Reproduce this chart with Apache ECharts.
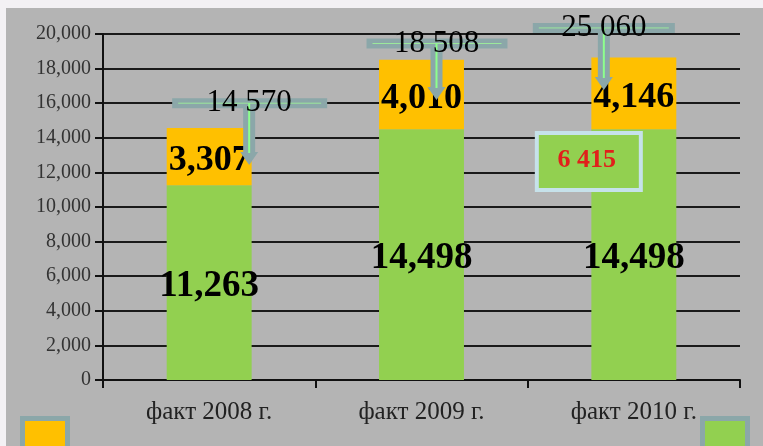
<!DOCTYPE html>
<html>
<head>
<meta charset="utf-8">
<script src="https://cdn.jsdelivr.net/npm/echarts@6/dist/echarts.min.js"></script>
<style>
  html, body { margin: 0; padding: 0; background: #f3f1f4; }
  #chart { width: 763px; height: 446px; }
</style>
</head>
<body>
<div id="chart"></div>
<script>
const categories = ['факт 2008 г.', 'факт 2009 г.', 'факт 2010 г.'];
const baseValues = [11263, 14498, 14498];
const addValues = [3307, 4010, 4146];
const totalLabels = ['14 570', '18 508', '25 060'];
const extraLabel = '6 415';

const chart = echarts.init(document.getElementById('chart'));
const serif = '"Liberation Serif", "DejaVu Serif", serif';

const option = {
  animation: false,
  backgroundColor: 'transparent',
  grid: { left: 103, right: 23, top: 34, bottom: 66 },
  xAxis: {
    type: 'category',
    data: categories,
    axisLine: { lineStyle: { color: '#111', width: 2 } },
    axisTick: { show: true, length: 8, lineStyle: { color: '#111', width: 2 } },
    axisLabel: { color: '#222', fontFamily: serif, fontSize: 25, margin: 20 }
  },
  yAxis: {
    type: 'value',
    min: 0,
    max: 20000,
    interval: 2000,
    axisLine: { show: true, lineStyle: { color: '#111', width: 2 } },
    axisTick: { show: true, length: 8, lineStyle: { color: '#111', width: 2 } },
    axisLabel: {
      color: '#333', fontFamily: serif, fontSize: 20, margin: 12,
      formatter: v => v.toLocaleString('en-US')
    },
    splitLine: { lineStyle: { color: '#1a1a1a', width: 2 } }
  },
  series: [
    {
      name: 'base',
      type: 'bar',
      stack: 'total',
      barWidth: '40%',
      itemStyle: { color: '#92d050' },
      label: {
        show: true, position: 'inside', offset: [0, 4], color: '#000',
        fontFamily: serif, fontWeight: 'bold', fontSize: 37,
        formatter: p => p.value.toLocaleString('en-US')
      },
      data: baseValues
    },
    {
      name: 'add',
      type: 'bar',
      stack: 'total',
      itemStyle: { color: '#ffc000' },
      label: {
        show: true, position: 'inside', offset: [0, 4], color: '#000',
        fontFamily: serif, fontWeight: 'bold', fontSize: 36,
        formatter: p => p.value.toLocaleString('en-US')
      },
      data: addValues
    }
  ]
};

chart.setOption(option);

// callouts: a bar with a down arrow pointing into each stack top
const teal = '#8ba7a9';
const callouts = [
  { y: 16000, left: -37, right: 118, ax: 40, tip: 165 },
  { y: 19450, left: -55, right: 86, ax: 15, tip: 100 },
  { y: 20350, left: -101, right: 41, ax: -30, tip: 90 }
];
const graphics = [
  { type: 'rect', shape: { x: 6, y: 8, width: 757, height: 438 }, style: { fill: '#b4b4b4' }, z: -10 }
];
categories.forEach((c, i) => {
  const o = callouts[i];
  const p = chart.convertToPixel({ xAxisIndex: 0, yAxisIndex: 0 }, [c, o.y]);
  const cx = p[0], cy = p[1];
  const ax = cx + o.ax;
  const tipY = o.tip;
  graphics.push(
    { type: 'rect', shape: { x: cx + o.left, y: cy - 5, width: o.right - o.left, height: 10 }, style: { fill: teal }, z: 50 },
    { type: 'line', shape: { x1: cx + o.left + 6, y1: cy, x2: cx + o.right - 6, y2: cy }, style: { stroke: '#9be89b', lineWidth: 1 }, z: 51 },
    { type: 'rect', shape: { x: ax - 6, y: cy, width: 12, height: tipY - cy - 12 }, style: { fill: teal }, z: 50 },
    { type: 'polygon', shape: { points: [[ax - 9, tipY - 13], [ax + 9, tipY - 13], [ax, tipY]] }, style: { fill: teal }, z: 50 },
    { type: 'line', shape: { x1: ax, y1: cy, x2: ax, y2: tipY - 12 }, style: { stroke: '#8dff8d', lineWidth: 2 }, z: 51 },
    {
      type: 'text', x: ax, y: cy, z: 60,
      style: { text: totalLabels[i], font: '31px ' + serif, fill: '#000', align: 'center', verticalAlign: 'middle' }
    }
  );
});

// extra box on the 2010 bar
const bx = chart.convertToPixel({ xAxisIndex: 0, yAxisIndex: 0 }, [categories[2], 12600]);
graphics.push(
  { type: 'rect', shape: { x: bx[0] - 97, y: bx[1] - 29, width: 104, height: 57 }, style: { fill: '#92d050', stroke: '#c6e2ea', lineWidth: 4 }, z: 40 },
  { type: 'text', x: bx[0] - 47, y: bx[1] - 2, z: 41, style: { text: extraLabel, font: 'bold 26px ' + serif, fill: '#e0201b', align: 'center', verticalAlign: 'middle' } }
);

// legend swatches at the bottom
graphics.push(
  { type: 'rect', shape: { x: 22.5, y: 418.5, width: 45, height: 30 }, style: { fill: '#ffc000', stroke: teal, lineWidth: 5 }, z: 30 },
  { type: 'rect', shape: { x: 702.5, y: 418.5, width: 45, height: 30 }, style: { fill: '#92d050', stroke: teal, lineWidth: 5 }, z: 30 }
);

chart.setOption({ graphic: graphics });
</script>
</body>
</html>
